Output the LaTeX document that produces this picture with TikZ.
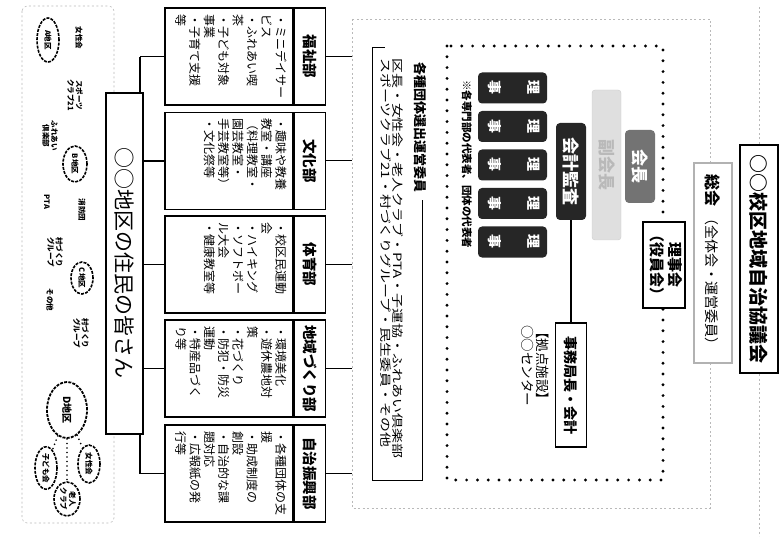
\documentclass[tikz,border=0pt]{standalone}
\usepackage{fontspec}
\usepackage{graphicx}
\setmainfont{Noto Sans CJK JP}
\newfontfamily\jpwide{Noto Sans CJK JP}[FakeStretch=1.3]
\usetikzlibrary{shapes.geometric}

\newcommand{\vt}[1]{\rotatebox{-90}{#1}}

\begin{document}
\begin{tikzpicture}[x=1pt, y=-1pt,
    box/.style={draw, line width=1.4pt, fill=white, inner sep=0pt},
    dept/.style={box, minimum width=128pt, minimum height=97pt},
    depttitle/.style={box, minimum width=31pt, minimum height=97pt, font=\fontsize{14.5}{16}\selectfont\bfseries},
    vtxt/.style={rotate=-90, align=left, inner sep=0pt},
    detail/.style={vtxt, anchor=north west, font=\fontsize{12}{14.3}\selectfont},
    grp/.style={ellipse, draw, line width=1.6pt, dash pattern=on 3pt off 1.2pt, fill=white, inner sep=0pt, font=\fontsize{7.5}{8.5}\selectfont\bfseries},
    tag/.style={vtxt, align=center, font=\fontsize{7.5}{8.5}\selectfont\bfseries},
    conn/.style={line width=1.3pt},
    faint/.style={gray!55, line width=0.6pt, dash pattern=on 2pt off 2.5pt},
    bigdots/.style={line width=3.2pt, dash pattern=on 0pt off 10.8pt, line cap=round},
    subdots/.style={line width=1.8pt, dash pattern=on 0pt off 4.5pt, line cap=round},
    darkbox/.style={fill=black!85, rounded corners=4pt, text=white, inner sep=0pt}
]
\useasboundingbox (0,0) rectangle (779,540);

% residents' groups (left panel)
\draw[faint, rounded corners=5pt] (22,6) rectangle (114,523);
\node[grp, minimum width=22pt, minimum height=44pt] (ga) at (48,40) {\vt{A地区}};
\node[tag] (lbl1) at (79,38) {女性会};
\node[tag] (sc21) at (75,95) {スポーツ\\クラブ21};
\node[tag] (fure) at (50,136) {ふれあい\\倶楽部};
\node[grp, minimum width=24pt, minimum height=36pt] (gb) at (75,164) {\vt{B地区}};
\node[tag] (pta) at (47,202) {PTA};
\node[tag] (shobo) at (82,210) {消防団};
\node[tag] (mura1) at (55,252) {村づくり\\グループ};
\node[grp, minimum width=22pt, minimum height=32pt] (gc) at (82,278) {\vt{C地区}};
\node[tag] (sonota) at (50,300) {その他};
\node[tag] (mura2) at (81,333) {村づくり\\グループ};
\node[grp, line width=1.8pt, minimum width=40pt, minimum height=56pt, font=\fontsize{10}{11}\selectfont\bfseries] (gd) at (67,410) {\vt{D地区}};
\node[grp, minimum width=22pt, minimum height=38pt] (josei) at (89,464) {\vt{女性会}};
\node[grp, minimum width=26pt, minimum height=34pt] (rojin) at (67,499) {\vt{\begin{tabular}{@{}c@{}}老人\\クラブ\end{tabular}}};
\node[grp, minimum width=22pt, minimum height=38pt] (kodomo) at (46,468) {\vt{子ども会}};
\draw[subdots] (gd) -- (josei);
\draw[subdots] (gd) -- (rojin);
\draw[subdots] (gd) -- (kodomo);

% departments
\node[dept] (d1) at (229,56.5) {};
\node[dept] (d2) at (229,161) {};
\node[dept] (d3) at (229,264.5) {};
\node[dept] (d4) at (229,368.5) {};
\node[dept] (d5) at (229,473.5) {};
\node[depttitle, anchor=west] (t1) at (d1.east) {\vt{福祉部}};
\node[depttitle, anchor=west] (t2) at (d2.east) {\vt{文化部}};
\node[depttitle, anchor=west] (t3) at (d3.east) {\vt{体育部}};
\node[depttitle, anchor=west] (t4) at (d4.east) {\vt{地域づくり部}};
\node[depttitle, anchor=west] (t5) at (d5.east) {\vt{自治振興部}};
\node[detail] (d1txt) at ([xshift=-7pt,yshift=-7pt]d1.north east) {・ミニデイサー\\ビス\\・ふれあい喫\\茶\\・子ども対象\\事業\\・子育て支援\\等};
\node[detail] (d2txt) at ([xshift=-7pt,yshift=-7pt]d2.north east) {・趣味や教養\\教室・講座\\（料理教室・\\園芸教室・\\手芸教室等）\\・文化祭等};
\node[detail] (d3txt) at ([xshift=-7pt,yshift=-7pt]d3.north east) {・校区民運動\\会\\・ハイキング\\・ソフトボー\\ル大会\\・健康教室等};
\node[detail] (d4txt) at ([xshift=-7pt,yshift=-7pt]d4.north east) {・環境美化\\・遊休農地対\\策\\・花づくり\\・防犯・防災\\運動\\・特産品づく\\り等};
\node[detail] (d5txt) at ([xshift=-7pt,yshift=-7pt]d5.north east) {・各種団体の支\\援\\・助成制度の\\創設\\・自治的な課\\題対応\\・広報紙の発\\行等};

% bus and the residents box
\coordinate (bustop) at (140,57);
\coordinate (busbot) at (140,473.5);
\coordinate (fl) at (352,19);
\draw[conn] (bustop) -- (busbot);
\foreach \d in {1,...,5} {
    \draw[conn] (d\d.west) -- (d\d.west -| bustop);
    \draw[line width=1pt] (t\d.east) -- (t\d.east -| fl);
}
\node[box, line width=1.8pt, minimum width=37pt, minimum height=341pt, font=\fontsize{21}{24}\selectfont] (res) at (124.5,263.5) {\vt{○○地区の住民の皆さん}};

% council frame
\draw[faint] (fl) rectangle (710,508);

% representatives
\node[minimum width=49pt, minimum height=432pt, inner sep=0pt] (cbox) at (397.5,264) {};
\node[vtxt, anchor=west, font=\fontsize{13}{15}\selectfont\bfseries] (chead) at (420,62) {各種団体選出運営委員};
\node[vtxt, anchor=north west, font=\jpwide\fontsize{11.5}{12}\selectfont] (cbody) at (404,58) {区長・女性会・老人クラブ・PTA・子運協・ふれあい倶楽部\\スポーツクラブ21・村づくりグループ・民生委員・その他};
\draw[conn] ([xshift=12pt]cbox.north west) -- (cbox.north west) -- (cbox.south west) -- (cbox.south east) -- ([yshift=-8pt]cbox.east |- chead.east);

% officers
\draw[bigdots] (447,46) rectangle (663,480);
\node[vtxt, anchor=west, font=\fontsize{10.5}{12}\selectfont\bfseries] (note) at (467,80) {※各専門部の代表者、団体の代表者};
\foreach \i/\yy in {1/88,2/126.5,3/165,4/203.5,5/242}
    \node[darkbox, minimum width=69pt, minimum height=31pt, font=\fontsize{14}{16}\selectfont\bfseries] (riji\i) at (512.5,\yy) {\vt{\begin{tabular}{@{}c@{}}理\\[22pt]事\end{tabular}}};
\node[darkbox, minimum width=30pt, minimum height=97pt, font=\fontsize{17}{19}\selectfont\bfseries] (kansa) at (571,171.5) {\vt{会計監査}};
\node[draw=gray!40, fill=gray!25, rounded corners=3pt, minimum width=29pt, minimum height=150pt, text=gray!55, font=\fontsize{17}{19}\selectfont\bfseries] (fuku) at (606.5,165) {\vt{副会長}};
\node[fill=black!55, rounded corners=4pt, minimum width=30pt, minimum height=73pt, text=white, font=\fontsize{17}{19}\selectfont\bfseries] (kaicho) at (640,166.5) {\vt{会長}};
\node[box, line width=2.4pt, minimum width=42pt, minimum height=86pt, font=\fontsize{15}{17}\selectfont\bfseries] (rijikai) at (664,265) {\vt{\begin{tabular}{@{}c@{}}理事会\\（役員会）\end{tabular}}};
\node[box, line width=1.6pt, minimum width=31pt, minimum height=124pt, font=\fontsize{14}{16}\selectfont\bfseries] (jimu) at (571,385) {\vt{事務局長・会計}};
\draw[conn] (kansa.south) -- (jimu.north);
\node[vtxt, anchor=north west, font=\fontsize{13.5}{15}\selectfont] (kyoten) at (549,325) {【拠点施設】\\○○センター};

% general meeting and title
\node[draw=gray!60, line width=2pt, fill=white, minimum width=38pt, minimum height=200pt, inner sep=0pt] (sokai) at (713,263) {\vt{{\fontsize{16}{18}\selectfont\bfseries 総会}\ \ {\fontsize{14}{16}\selectfont （全体会・運営委員）}}};
\node[box, line width=2pt, minimum width=38pt, minimum height=228pt, font=\fontsize{19}{21}\selectfont\bfseries] (title) at (759,259) {\vt{○○校区地域自治協議会}};
\coordinate (pgtop) at (759,6);
\coordinate (pgbot) at (759,536);
\draw[faint] (title.north) -- (pgtop);
\draw[faint] (title.south) -- (pgbot);
\end{tikzpicture}
\end{document}
